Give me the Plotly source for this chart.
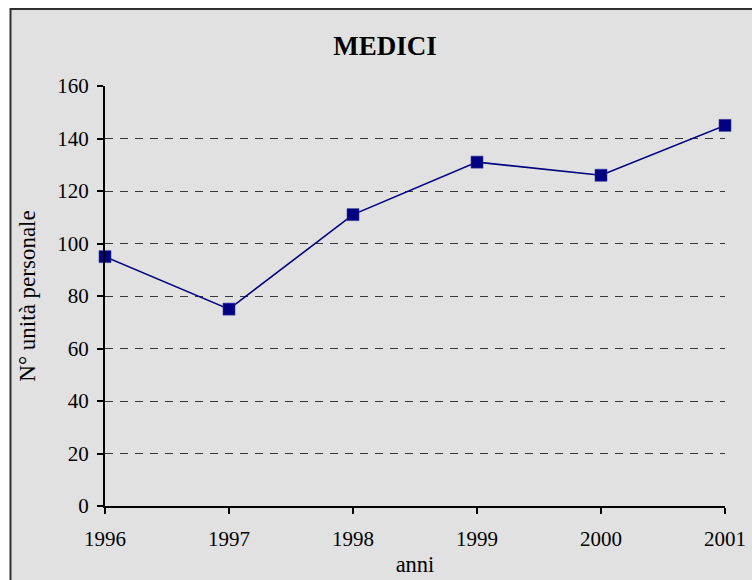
import plotly.graph_objects as go

anni = [1996, 1997, 1998, 1999, 2000, 2001]
medici = [95, 75, 111, 131, 126, 145]

y_ticks = [0, 20, 40, 60, 80, 100, 120, 140, 160]

BG = "#e1e1e1"
NAVY = "#000080"
FONT = "Liberation Serif, Times New Roman, serif"

fig = go.Figure()

fig.add_trace(
    go.Scatter(
        x=anni,
        y=medici,
        mode="lines+markers",
        line=dict(color=NAVY, width=1.6),
        marker=dict(symbol="square", size=12, color=NAVY,
                    line=dict(color="#3a3aa0", width=0.6)),
        cliponaxis=False,
        showlegend=False,
    )
)

# cornice grigia della figura
fig.add_shape(
    type="rect",
    xref="paper",
    yref="paper",
    x0=-0.1524,
    x1=2,
    y0=-1,
    y1=1.1833,
    fillcolor=BG,
    line=dict(color="#303030", width=2),
    layer="below",
)

fig.update_layout(
    width=752,
    height=580,
    margin=dict(l=105, r=27, t=86, b=74),
    paper_bgcolor="white",
    plot_bgcolor=BG,
    font=dict(family=FONT, size=21, color="black"),
    title=dict(
        text="<b>MEDICI</b>",
        x=385 / 752,
        xanchor="center",
        y=1 - 46 / 580,
        yanchor="middle",
        font=dict(family=FONT, size=27, color="black"),
    ),
)

fig.update_xaxes(
    range=[1996, 2001],
    tickvals=anni,
    ticktext=[str(a) for a in anni],
    automargin=False,
    showgrid=False,
    zeroline=False,
    showline=True,
    linecolor="black",
    linewidth=2,
    ticks="outside",
    ticklen=6,
    tickwidth=1.5,
    tickcolor="black",
    ticklabelstandoff=7,
    title=dict(text="anni", standoff=6, font=dict(family=FONT, size=22.5)),
)

fig.update_yaxes(
    range=[0, 160],
    tickvals=y_ticks,
    automargin=False,
    showgrid=True,
    gridcolor="#383838",
    gridwidth=1.2,
    griddash="8px,7px",
    zeroline=False,
    showline=True,
    linecolor="black",
    linewidth=2,
    ticks="outside",
    ticklen=6,
    tickwidth=1.5,
    tickcolor="black",
    ticklabelstandoff=4,
    title=dict(text="N° unità personale", standoff=15, font=dict(family=FONT, size=23)),
)

fig.write_html(
    "out.html",
    config={"displayModeBar": False},
    post_script="document.body.style.margin='0';document.body.style.overflow='hidden';",
)
